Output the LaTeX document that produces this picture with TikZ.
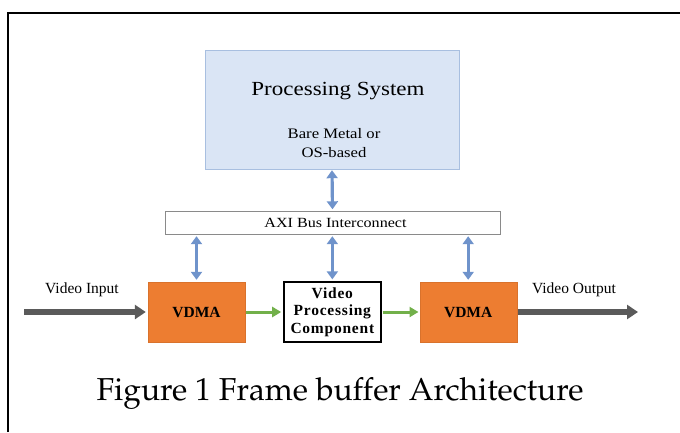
\documentclass[tikz,border=0pt]{standalone}
\usepackage[T1]{fontenc}
\usepackage{fontspec}
\setmainfont{Liberation Serif}
\newfontfamily\widefont[FakeStretch=1.15]{Liberation Serif}
\newfontfamily\spacedfont[LetterSpace=5]{Liberation Serif}
\usepackage{xcolor}
\usepackage{tikz}
\usetikzlibrary{positioning, arrows.meta}
\definecolor{psblue}{HTML}{DAE5F5}
\definecolor{psedge}{HTML}{A8BFE0}
\definecolor{busblue}{HTML}{6F93CB}
\definecolor{vdmaorange}{HTML}{ED7D31}
\definecolor{vdmaedge}{HTML}{D9722C}
\definecolor{streamgreen}{HTML}{72B04A}
\definecolor{videogray}{HTML}{5A5A5A}
\definecolor{axiedge}{HTML}{8A8A8A}

\begin{document}
\begin{tikzpicture}[x=1pt, y=-1pt,
    vdma/.style={fill=vdmaorange, draw=vdmaedge, inner sep=0pt,
                 minimum width=97pt, minimum height=60pt,
                 font=\fontsize{15.5}{18}\selectfont\bfseries},
    busarrow/.style={busblue, line width=3.2pt,
                     {Triangle[width=11pt, length=8pt]}-{Triangle[width=11pt, length=8pt]}},
    streamarrow/.style={streamgreen, line width=3pt,
                        -{Triangle[width=10pt, length=9pt]}},
    videoarrow/.style={videogray, line width=5.5pt,
                       -{Triangle[width=14pt, length=11pt]}}]
  \useasboundingbox (0,0) rectangle (680,432);
  % frame round the figure
  \draw[line width=2pt] (8,432) -- (8,13) -- (680,13);

  % processing system
  \node[fill=psblue, draw=psedge, minimum width=254pt, minimum height=119pt,
        inner sep=0pt] (ps) at (332,109.5) {};
  \node[font=\widefont\fontsize{20}{24}\selectfont] (pstitle) at (338,91)
    {Processing System};
  \node[font=\widefont\fontsize{14.5}{18.5}\selectfont, align=center] (psos)
    at (334,143) {Bare Metal or\\OS-based};

  % bus
  \node[draw=axiedge, fill=white, minimum width=335pt, minimum height=23pt,
        inner sep=0pt, font=\widefont\fontsize{14}{16}\selectfont] (axi)
    at (332.5,222.5) {\hspace{6pt}AXI Bus Interconnect};

  % video path
  \node[vdma] (vdmain) at (196.5,312) {VDMA};
  \node[draw, line width=1.3pt, fill=white, inner sep=0pt, minimum width=97pt,
        minimum height=60pt, align=center,
        font=\spacedfont\fontsize{15.5}{17.5}\selectfont\bfseries,
        right=38pt of vdmain] (vpc) {Video\\Processing\\Component};
  \node[vdma, right=38pt of vpc] (vdmaout) {VDMA};

  \coordinate (vin) at (24,312);
  \coordinate (vout) at (638,312);
  \node[font=\fontsize{15.5}{18}\selectfont] (vinlabel) at (82,290) {Video Input};
  \node[font=\fontsize{15.5}{18}\selectfont] (voutlabel) at (574,290) {Video Output};

  \draw[busarrow] ([yshift=-1pt]ps.south) -- ([yshift=1.5pt]axi.north);
  \draw[busarrow] ([yshift=-2pt]axi.south -| vdmain.north) -- ([yshift=2pt]vdmain.north);
  \draw[busarrow] ([yshift=-2pt]axi.south -| vpc.north) -- ([yshift=2pt]vpc.north);
  \draw[busarrow] ([yshift=-2pt]axi.south -| vdmaout.north) -- ([yshift=2pt]vdmaout.north);

  \draw[streamarrow] ([xshift=1pt]vdmain.east) -- ([xshift=-2pt]vpc.west);
  \draw[streamarrow] ([xshift=1pt]vpc.east) -- ([xshift=-1pt]vdmaout.west);
  \draw[videoarrow] (vin) -- ([xshift=-2pt]vdmain.west);
  \draw[videoarrow] ([xshift=1pt]vdmaout.east) -- (vout);

  % caption
  \node[font=\fontencoding{T1}\fontfamily{ppl}\fontsize{31.7}{36}\selectfont]
    (caption) at (340,393) {Figure 1 Frame buffer Architecture};
\end{tikzpicture}
\end{document}
